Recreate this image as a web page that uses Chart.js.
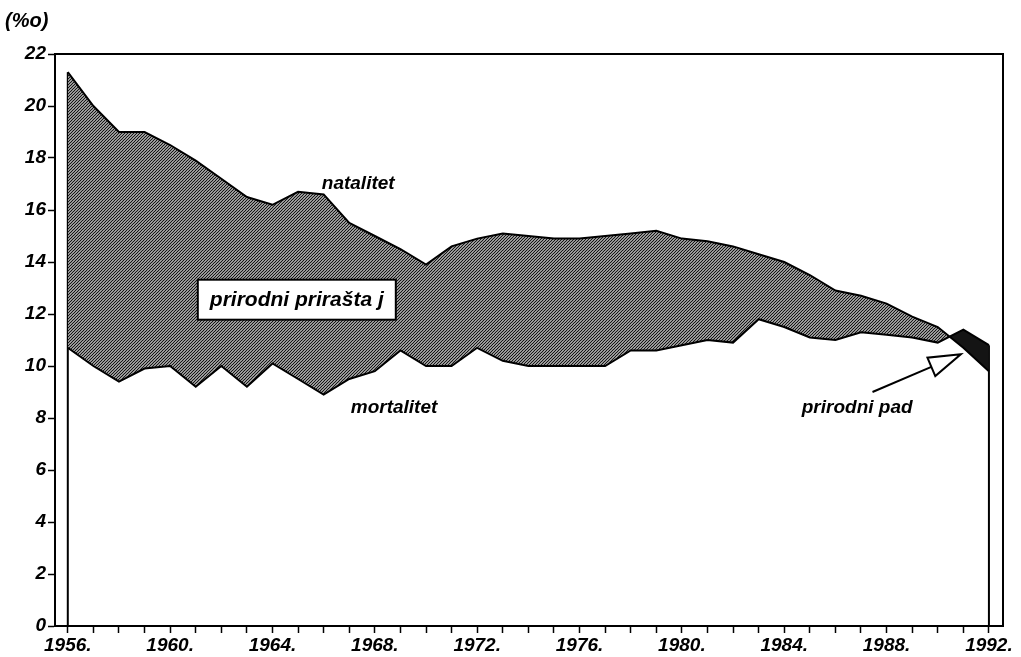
<!DOCTYPE html>
<html>
<head>
<meta charset="utf-8">
<script src="https://cdn.jsdelivr.net/npm/chart.js@4.4.0/dist/chart.umd.min.js"></script>
<style>
  html, body { margin: 0; padding: 0; background: #fff; }
  #wrap { width: 1021px; height: 657px; position: relative; }
</style>
</head>
<body>
<div id="wrap"><canvas id="c" width="1021" height="657"></canvas></div>
<script>
const years = [1956,1957,1958,1959,1960,1961,1962,1963,1964,1965,1966,1967,1968,1969,1970,1971,1972,1973,1974,1975,1976,1977,1978,1979,1980,1981,1982,1983,1984,1985,1986,1987,1988,1989,1990,1991,1992];
const natalitet = [21.3,20.0,19.0,19.0,18.5,17.9,17.2,16.5,16.2,16.7,16.6,15.5,15.0,14.5,13.9,14.6,14.9,15.1,15.0,14.9,14.9,15.0,15.1,15.2,14.9,14.8,14.6,14.3,14.0,13.5,12.9,12.7,12.4,11.9,11.5,10.7,9.8];
const mortalitet = [10.7,10.0,9.4,9.9,10.0,9.2,10.0,9.2,10.1,9.5,8.9,9.5,9.8,10.6,10.0,10.0,10.7,10.2,10.0,10.0,10.0,10.0,10.6,10.6,10.8,11.0,10.9,11.8,11.5,11.1,11.0,11.3,11.2,11.1,10.9,11.4,10.8];
const yTicks = [0,2,4,6,8,10,12,14,16,18,20,22];
const xLabelYears = [1956,1960,1964,1968,1972,1976,1980,1984,1988,1992];
const unitLabel = "(%o)";
const labels = { natalitet: "natalitet", mortalitet: "mortalitet", prirast: "prirodni prirašta j", pad: "prirodni pad" };

const FONT = '"Liberation Sans", Arial, sans-serif';
const canvas = document.getElementById('c');
const ctx = canvas.getContext('2d');

function hatch() {
  const s = 3;
  const c = document.createElement('canvas');
  c.width = s; c.height = s;
  const g = c.getContext('2d');
  g.fillStyle = '#fff'; g.fillRect(0, 0, s, s);
  g.strokeStyle = '#151515'; g.lineWidth = 1.25;
  g.beginPath();
  g.moveTo(0, s); g.lineTo(s, 0);
  g.moveTo(-1, 1); g.lineTo(1, -1);
  g.moveTo(s - 1, s + 1); g.lineTo(s + 1, s - 1);
  g.stroke();
  return ctx.createPattern(c, 'repeat');
}

const toXY = (arr) => years.map((y, i) => ({ x: y, y: arr[i] }));
const last = years.length - 1;

const decor = {
  id: 'decor',
  afterDraw(chart) {
    const { ctx, chartArea: a, scales } = chart;
    const X = v => scales.x.getPixelForValue(v);
    const Y = v => scales.y.getPixelForValue(v);
    ctx.save();
    ctx.strokeStyle = '#000';
    ctx.lineWidth = 2;
    ctx.beginPath();
    ctx.moveTo(a.left, a.top); ctx.lineTo(a.right, a.top);
    ctx.lineTo(a.right, a.bottom);
    ctx.stroke();

    ctx.fillStyle = '#000';
    ctx.font = 'italic bold 20px ' + FONT;
    ctx.textAlign = 'left'; ctx.textBaseline = 'middle';
    ctx.fillText(unitLabel, 5, 21);

    ctx.font = 'italic bold 19px ' + FONT;
    ctx.textAlign = 'center';
    ctx.fillText(labels.natalitet, X(1967.35), Y(17.0));
    ctx.fillText(labels.mortalitet, X(1968.75), Y(8.38));
    ctx.fillText(labels.pad, X(1986.85), Y(8.38));

    // box
    const bx = X(1964.95), by = Y(12.55);
    const bw = 198, bh = 40;
    ctx.fillStyle = '#fff';
    ctx.fillRect(bx - bw / 2, by - bh / 2, bw, bh);
    ctx.lineWidth = 2; ctx.strokeStyle = '#000';
    ctx.strokeRect(bx - bw / 2, by - bh / 2, bw, bh);
    ctx.fillStyle = '#000';
    ctx.font = 'italic bold 21px ' + FONT;
    ctx.fillText(labels.prirast, bx, by + 1);

    // arrow
    const tx = X(1987.45), ty = Y(9.0);
    const hx = X(1990.9), hy = Y(10.45);
    const ang = Math.atan2(hy - ty, hx - tx);
    const hl = 32, hw = 10;
    const bxp = hx - hl * Math.cos(ang), byp = hy - hl * Math.sin(ang);
    ctx.lineWidth = 2;
    ctx.beginPath();
    ctx.moveTo(tx, ty); ctx.lineTo(bxp, byp);
    ctx.stroke();
    ctx.beginPath();
    ctx.moveTo(hx, hy);
    ctx.lineTo(bxp + hw * Math.sin(ang), byp - hw * Math.cos(ang));
    ctx.lineTo(bxp - hw * Math.sin(ang), byp + hw * Math.cos(ang));
    ctx.closePath();
    ctx.fillStyle = '#fff'; ctx.fill();
    ctx.stroke();
    ctx.restore();
  }
};

new Chart(ctx, {
  type: 'line',
  data: {
    datasets: [
      { label: 'mortalitet', data: toXY(mortalitet), borderColor: '#000', borderWidth: 2, pointRadius: 0, fill: false, tension: 0 },
      { label: 'natalitet', data: toXY(natalitet), borderColor: '#000', borderWidth: 2, pointRadius: 0, tension: 0,
        fill: { target: 0, above: hatch(), below: '#141414' } },
      { label: 'l', data: [{ x: years[0], y: 0 }, { x: years[0], y: natalitet[0] }], borderColor: '#000', borderWidth: 2, pointRadius: 0, fill: false },
      { label: 'r', data: [{ x: years[last], y: 0 }, { x: years[last], y: mortalitet[last] }], borderColor: '#000', borderWidth: 2, pointRadius: 0, fill: false }
    ]
  },
  options: {
    responsive: false,
    animation: false,
    layout: { padding: { top: 54, right: 18, left: 0, bottom: 0 } },
    plugins: { legend: { display: false }, tooltip: { enabled: false }, title: { display: false } },
    scales: {
      x: {
        type: 'linear', min: 1955.5, max: 1992.55,
        afterBuildTicks: s => { s.ticks = years.map(v => ({ value: v })); },
        afterFit: s => { s.height = 31; },
        ticks: { autoSkip: false, maxRotation: 0, color: '#000', padding: 1,
          font: { family: FONT, size: 19, style: 'italic', weight: 'bold' },
          callback: v => xLabelYears.includes(v) ? v + '.' : '' },
        grid: { drawOnChartArea: false, drawTicks: true, tickLength: 7, tickColor: '#000', tickWidth: 1.5 },
        border: { display: true, color: '#000', width: 2 }
      },
      y: {
        min: 0, max: 22,
        afterBuildTicks: s => { s.ticks = yTicks.map(v => ({ value: v })); },
        afterFit: s => { s.width = 55; },
        ticks: { color: '#000', padding: 2,
          font: { family: FONT, size: 19, style: 'italic', weight: 'bold' } },
        grid: { drawOnChartArea: false, drawTicks: true, tickLength: 7, tickColor: '#000', tickWidth: 1.5 },
        border: { display: true, color: '#000', width: 2 }
      }
    }
  },
  plugins: [decor]
});
</script>
</body>
</html>
